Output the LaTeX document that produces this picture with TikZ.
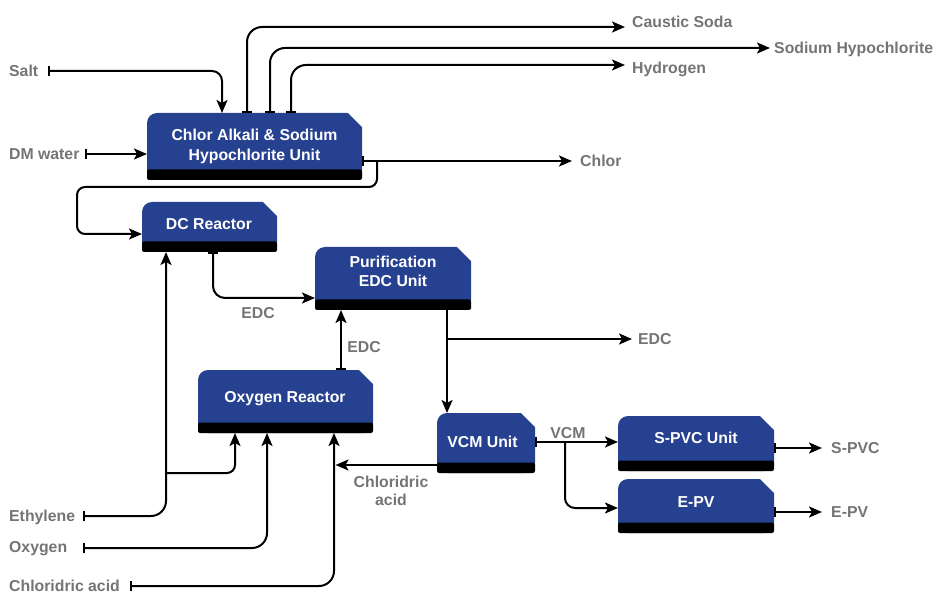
\documentclass[tikz,border=0pt]{standalone}
\usepackage{fontspec}
\setmainfont{Liberation Sans}
\usetikzlibrary{arrows.meta}
\definecolor{boxblue}{HTML}{26418F}
\definecolor{labelgray}{HTML}{747474}
\tikzset{
  basefont/.style={font=\fontsize{15.8}{19.5}\selectfont\bfseries},
  unittext/.style={basefont, text=white, align=center, inner sep=0pt, text depth=0pt},
  lbl/.style={basefont, text=labelgray, inner sep=0pt, text depth=0pt, anchor=west},
  boxnode/.style={inner sep=0pt, outer sep=0pt},
  >={Stealth[length=13pt,width=11pt,inset=3pt]},
  flow/.style={line width=2pt, rounded corners=12pt, ->},
  barflow/.style={line width=2pt, rounded corners=12pt, {Bar[width=10pt]}->},
}
\newcommand\unitbox[8]{% name, x1, y1, x2, y2, text x, text y, text
  \node[boxnode, minimum width={#4-#2}, minimum height={#5-#3}] (#1) at ({(#2+#4)/2},{(#3+#5)/2}) {};
  \fill[boxblue, rounded corners=10pt] (#1.north west) rectangle (#1.south east);
  \fill[white] ([xshift=-15pt,yshift=1pt]#1.north east) -- ([xshift=1pt,yshift=1pt]#1.north east) -- ([xshift=1pt,yshift=-15pt]#1.north east) -- cycle;
  \fill[black, rounded corners=2pt] ([yshift=10.5pt]#1.south west) rectangle (#1.south east);
  \node[unittext] (#1t) at (#6,#7) {#8};
}
\begin{document}
\begin{tikzpicture}[x=1pt,y=-1pt]
\useasboundingbox (0,0) rectangle (939,593);

% units
\unitbox{cak}{147}{113}{362}{180}{254.5}{145}{Chlor Alkali \& Sodium\\Hypochlorite Unit}
\unitbox{dcr}{142}{202}{277}{252}{209}{224}{DC Reactor}
\unitbox{pur}{315}{247}{471}{310}{393}{271.5}{Purification\\EDC Unit}
\unitbox{ox}{198}{370}{373}{433}{285}{396.7}{Oxygen Reactor}
\unitbox{vcm}{437}{413}{535}{473}{482.5}{441.7}{VCM Unit}
\unitbox{spvc}{618}{416}{774}{471}{696}{438}{S-PVC Unit}
\unitbox{epv}{618}{479}{774}{533}{696}{501.7}{E-PV}

% labels
\node[lbl] (salt) at (9,71) {Salt};
\node[lbl] (dmw) at (9,154) {DM water};
\node[lbl] (eth) at (9,516) {Ethylene};
\node[lbl] (oxy) at (9,547) {Oxygen};
\node[lbl] (hcl) at (9,585.5) {Chloridric acid};
\node[lbl] (caus) at (632,22) {Caustic Soda};
\node[lbl] (shyp) at (774,48) {Sodium Hypochlorite};
\node[lbl] (hyd) at (632,68) {Hydrogen};
\node[lbl] (chl) at (580,161) {Chlor};
\node[lbl, anchor=center] (edca) at (258,313) {EDC};
\node[lbl, anchor=center] (edcb) at (364,347) {EDC};
\node[lbl] (edcc) at (638,339) {EDC};
\node[lbl, anchor=center] (vcml) at (568,433) {VCM};
\node[lbl, anchor=center, align=center, font=\fontsize{15.8}{18}\selectfont\bfseries] (hcll) at (391,491) {Chloridric\\acid};
\node[lbl] (spvcl) at (831,448) {S-PVC};
\node[lbl] (epvl) at (831,512) {E-PV};

% free ends
\coordinate (saltb) at (48,71);
\coordinate (dmwb) at (85,154);
\coordinate (ethb) at (83,516);
\coordinate (oxyb) at (83,548);
\coordinate (hclb) at (130,586);
\coordinate (cause) at (625,27);
\coordinate (shype) at (770,48);
\coordinate (hyde) at (625,65);
\coordinate (chle) at (572,161);
\coordinate (chlj) at (377,161);
\coordinate (ethj) at (166,473);
\coordinate (hclj) at (335.5,465);
\coordinate (edcj) at (447,339);
\coordinate (edce) at (632,339);
\coordinate (vcmj) at (565,442);
\coordinate (spvce) at (822,448);
\coordinate (epve) at (822,512);

% inputs to chlor alkali
\draw[barflow, rounded corners=10pt] (saltb) -| (cak.north -| 222,0);
\draw[barflow] (dmwb) -- (cak.west |- 0,154);

% outputs of chlor alkali
\draw[barflow, rounded corners=15pt] (cak.north -| 247,0) |- (cause);
\draw[barflow, rounded corners=15pt] (cak.north -| 270,0) |- (shype);
\draw[barflow, rounded corners=15pt] (cak.north -| 291,0) |- (hyde);
\draw[barflow] (cak.east |- 0,161) -- (chle);
\draw[flow, rounded corners=8pt] (chlj) -- (377,187) -- (77,187) -- (77,234) -- (dcr.west |- 0,234);

% DC reactor
\draw[barflow] (dcr.south -| 213,0) |- (pur.west |- 0,298);
\draw[barflow, rounded corners=15pt] (ethb) -| (dcr.south -| 166,0);
\draw[flow, rounded corners=8pt] (ethj) -| (ox.south -| 235,0);

% oxygen reactor
\draw[barflow, rounded corners=15pt] (oxyb) -| (ox.south -| 267,0);
\draw[barflow, rounded corners=15pt] (hclb) -| (ox.south -| 334,0);
\draw[flow] (vcm.west |- 0,465) -- (hclj);
\draw[barflow] (ox.north -| 341,0) -- (pur.south -| 341,0);

% purification
\draw[flow] (pur.south -| 447,0) -- (vcm.north -| 447,0);
\draw[flow] (edcj) -- (edce);

% VCM
\draw[barflow] (vcm.east |- 0,442) -- (spvc.west |- 0,442);
\draw[flow, rounded corners=10pt] (vcmj) |- (epv.west |- 0,508);
\draw[barflow] (spvc.east |- 0,448) -- (spvce);
\draw[barflow] (epv.east |- 0,512) -- (epve);
\end{tikzpicture}
\end{document}
